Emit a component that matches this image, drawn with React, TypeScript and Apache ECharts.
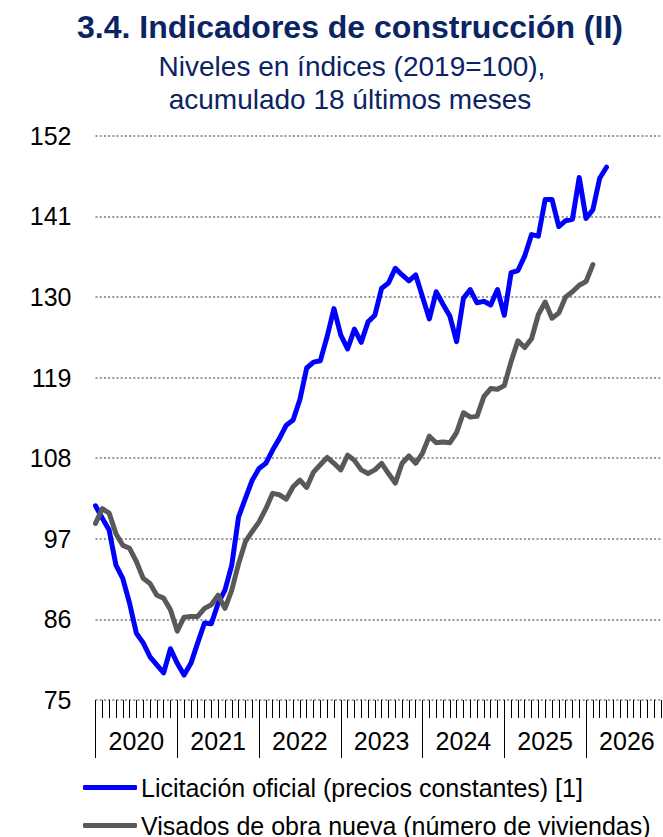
import React, { useEffect, useRef } from "react";
import * as echarts from "echarts";

const years = ["2020", "2021", "2022", "2023", "2024", "2025", "2026"];
const monthCodes = ["01", "02", "03", "04", "05", "06", "07", "08", "09", "10", "11", "12"];
const categories = years.flatMap((y) => monthCodes.map((m) => `${y}-${m}`));

const yTicks = [75, 86, 97, 108, 119, 130, 141, 152];

const seriesNames = [
  "Licitación oficial (precios constantes) [1]",
  "Visados de obra nueva (número de viviendas)",
];

// Licitación oficial, Jan 2020 .. Apr 2026
const licitacion = [
  101.5, 99.8, 98.2, 93.4, 91.6, 88.2, 84.1, 82.8, 80.9, 79.8, 78.7, 82.0,
  80.0, 78.4, 80.0, 82.8, 85.5, 85.4, 88.2, 90.0, 93.4, 100.0, 102.5, 105.0,
  106.6, 107.3, 109.1, 110.7, 112.5, 113.2, 116.0, 120.3, 121.1, 121.3, 124.6, 128.4,
  124.8, 122.9, 125.6, 123.8, 126.6, 127.5, 131.2, 131.9, 133.9, 133.0, 132.2, 133.0,
  130.0, 127.0, 130.7, 129.0, 127.4, 123.9, 129.8, 131.0, 129.2, 129.4, 128.9, 131.0,
  127.5, 133.3, 133.6, 135.6, 138.5, 138.3, 143.3, 143.3, 139.6, 140.4, 140.6, 146.3,
  140.7, 141.9, 146.2, 147.7,
];

// Visados de obra nueva, Jan 2020 .. Feb 2026
const visados = [
  99.1, 101.1, 100.5, 97.7, 96.1, 95.7, 93.9, 91.6, 90.9, 89.3, 88.9, 87.3,
  84.4, 86.3, 86.4, 86.4, 87.5, 88.0, 89.3, 87.5, 90.0, 93.6, 96.6, 98.0,
  99.3, 101.1, 103.2, 103.0, 102.4, 104.1, 105.0, 104.0, 106.1, 107.1, 108.1, 107.3,
  106.4, 108.4, 107.7, 106.4, 105.9, 106.4, 107.3, 105.9, 104.6, 107.3, 108.3, 107.3,
  108.7, 111.0, 110.1, 110.2, 110.1, 111.5, 114.2, 113.6, 113.7, 116.4, 117.5, 117.4,
  117.9, 121.2, 124.0, 123.1, 124.3, 127.6, 129.3, 127.1, 127.8, 130.0, 130.7, 131.6,
  132.1, 134.4,
];

const titleLines = [
  "3.4. Indicadores de construcción (II)",
  "Niveles en índices (2019=100),",
  "acumulado 18 últimos meses",
];

const FONT = '"Liberation Sans", Arial, sans-serif';
const NAVY = "#0b2464";

const legendBase = {
  orient: "horizontal",
  left: 83,
  itemWidth: 54,
  itemHeight: 5,
  icon: "roundRect",
  padding: 0,
  textStyle: { fontSize: 25, color: "#000", fontFamily: FONT, padding: [0, 0, 0, -1] },
};

export default function App() {
  const ref = useRef<HTMLDivElement>(null);

  useEffect(() => {
    if (!ref.current) return;
    const chart = echarts.init(ref.current, undefined, { renderer: "svg" });
    const option = {
      animation: false,
      textStyle: { fontFamily: FONT },
      grid: { left: 95.5, right: 2, top: 135.7, bottom: 137, containLabel: false },
      graphic: [
        {
          type: "text",
          x: 350,
          y: 27,
          style: {
            text: titleLines[0],
            fontSize: 32,
            fontWeight: "bold",
            fontFamily: FONT,
            fill: NAVY,
            align: "center",
            verticalAlign: "middle",
          },
        },
        {
          type: "text",
          x: 352,
          y: 66,
          style: {
            text: titleLines[1],
            fontSize: 28,
            fontFamily: FONT,
            fill: NAVY,
            align: "center",
            verticalAlign: "middle",
          },
        },
        {
          type: "text",
          x: 350,
          y: 99,
          style: {
            text: titleLines[2],
            fontSize: 28,
            fontFamily: FONT,
            fill: NAVY,
            align: "center",
            verticalAlign: "middle",
          },
        },
      ],
      legend: [
        { ...legendBase, top: 775, data: [seriesNames[0]] },
        { ...legendBase, top: 813, data: [seriesNames[1]] },
      ],
      xAxis: [
        {
          type: "category",
          data: categories,
          boundaryGap: false,
          position: "bottom",
          axisLine: { show: false },
          axisTick: { show: true, interval: 0, length: 18, lineStyle: { color: "#000", width: 1 } },
          axisLabel: { show: false },
          splitLine: { show: false },
        },
        {
          type: "category",
          data: categories,
          boundaryGap: false,
          position: "bottom",
          axisLine: { show: false },
          axisTick: {
            show: true,
            interval: (i: number) => i % 12 === 0,
            length: 58,
            lineStyle: { color: "#000", width: 1 },
          },
          axisLabel: {
            show: true,
            interval: (i: number) => i % 12 === 6,
            formatter: (v: string) => v.slice(0, 4),
            fontSize: 25,
            color: "#000",
            margin: 28,
            fontFamily: FONT,
          },
          splitLine: { show: false },
        },
      ],
      yAxis: {
        type: "value",
        min: 75,
        max: 152,
        axisLine: { show: false },
        axisTick: { show: false, customValues: yTicks },
        axisLabel: { customValues: yTicks, fontSize: 25, color: "#000", margin: 24, fontFamily: FONT },
        splitLine: { show: true, lineStyle: { type: [2, 2.2], width: 2, color: "#999" } },
      },
      series: [
        {
          name: seriesNames[0],
          type: "line",
          xAxisIndex: 0,
          data: licitacion,
          symbol: "none",
          lineStyle: { color: "#0000ff", width: 5, cap: "round", join: "round" },
          itemStyle: { color: "#0000ff" },
        },
        {
          name: seriesNames[1],
          type: "line",
          xAxisIndex: 0,
          data: visados,
          symbol: "none",
          lineStyle: { color: "#595959", width: 5, cap: "round", join: "round" },
          itemStyle: { color: "#595959" },
        },
      ],
    };
    chart.setOption(option as any);
    return () => chart.dispose();
  }, []);

  return (
    <div
      ref={ref}
      style={{ position: "fixed", left: 0, top: 0, width: 663, height: 837, background: "#fff" }}
    />
  );
}
